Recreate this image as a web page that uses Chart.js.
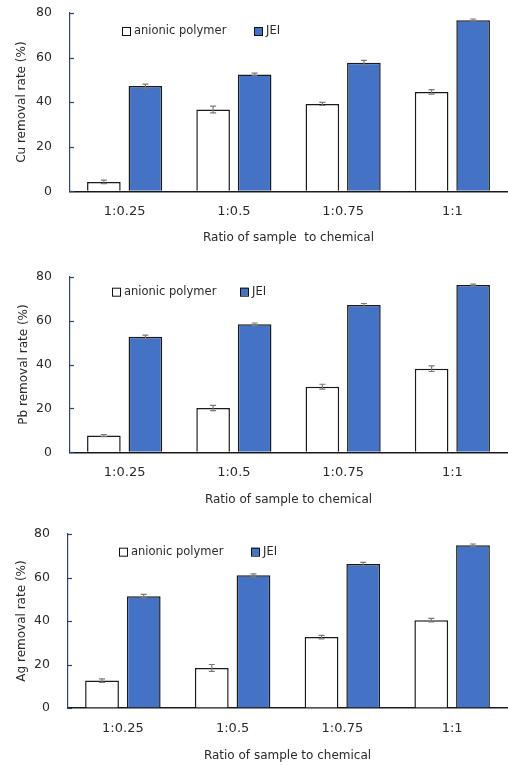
<!DOCTYPE html>
<html>
<head>
<meta charset="utf-8">
<script src="https://cdn.jsdelivr.net/npm/chart.js@4/dist/chart.umd.min.js"></script>
<style>
html,body{margin:0;padding:0;background:#fff;}
#wrap{width:508px;height:765px;position:relative;}
canvas{display:block;}
</style>
</head>
<body>
<div id="wrap">
<canvas id="c1" width="508" height="255"></canvas>
<canvas id="c2" width="508" height="255"></canvas>
<canvas id="c3" width="508" height="255"></canvas>
</div>
<script>
// ---- data ----
const categories = ['1:0.25', '1:0.5', '1:0.75', '1:1'];
const seriesNames = ['anionic polymer', 'JEI'];
const yTicks = [0, 20, 40, 60, 80];

const cuAnionic = [4.2, 36.7, 39.2, 44.6];
const cuAnionicErr = [0.8, 1.5, 0.7, 1.0];
const cuJEI = [47.2, 52.4, 57.7, 76.8];
const cuJEIErr = [0.9, 0.6, 1.0, 0.5];

const pbAnionic = [7.6, 20.2, 29.9, 38.1];
const pbAnionicErr = [0.5, 1.2, 1.1, 1.3];
const pbJEI = [52.6, 58.3, 67.1, 76.2];
const pbJEIErr = [0.8, 0.6, 0.7, 0.4];

const agAnionic = [12.6, 18.4, 32.6, 40.4];
const agAnionicErr = [0.8, 1.6, 0.8, 0.8];
const agJEI = [51.4, 61.0, 66.2, 74.8];
const agJEIErr = [0.8, 0.7, 0.8, 0.6];

const FONT = "'DejaVu Sans', sans-serif";
const TEXT = '#2a2a2a';
const NAVY = '#2E4372';

const errorBarPlugin = {
  id: 'errorBars',
  afterDatasetsDraw(chart) {
    const ctx = chart.ctx;
    const y = chart.scales.y;
    ctx.save();
    ctx.strokeStyle = '#7a7a7a';
    ctx.lineWidth = 1.2;
    chart.data.datasets.forEach((ds, di) => {
      const meta = chart.getDatasetMeta(di);
      meta.data.forEach((bar, i) => {
        const v = ds.data[i], e = ds.errors[i];
        const yt = y.getPixelForValue(v + e), yb = y.getPixelForValue(v - e);
        const x = bar.x, cw = 3;
        ctx.beginPath();
        ctx.moveTo(x, yt); ctx.lineTo(x, yb);
        ctx.moveTo(x - cw, yt); ctx.lineTo(x + cw, yt);
        ctx.moveTo(x - cw, yb); ctx.lineTo(x + cw, yb);
        ctx.stroke();
      });
    });
    ctx.restore();
  }
};

const axisDecorPlugin = {
  id: 'axisDecor',
  afterDraw(chart, args, opts) {
    const ctx = chart.ctx;
    const y = chart.scales.y;
    const a = chart.chartArea;
    ctx.save();
    // inward ticks on y axis
    ctx.strokeStyle = NAVY;
    ctx.lineWidth = 1.2;
    yTicks.forEach(t => {
      const py = Math.round(y.getPixelForValue(t)) + 0.5;
      ctx.beginPath();
      ctx.moveTo(a.left, py);
      ctx.lineTo(a.left + 4, py);
      ctx.stroke();
    });
    // legend inside plot
    ctx.font = '11.5px ' + FONT;
    ctx.textBaseline = 'middle';
    const ly = a.top + opts.dy;
    chart.data.datasets.forEach((ds, di) => {
      const bx = opts.xs[di];
      ctx.fillStyle = ds.backgroundColor;
      ctx.fillRect(bx, ly - 4, 8, 8);
      ctx.strokeStyle = '#111';
      ctx.lineWidth = 1;
      ctx.strokeRect(bx + 0.5, ly - 3.5, 8, 8);
      ctx.fillStyle = TEXT;
      ctx.fillText(ds.label, bx + 12, ly);
    });
    ctx.restore();
  }
};

function makeChart(id, yTitle, xTitle, anion, anionErr, jei, jeiErr, lay) {
  return new Chart(document.getElementById(id), {
    type: 'bar',
    data: {
      labels: categories,
      datasets: [
        { label: seriesNames[0], data: anion, errors: anionErr, backgroundColor: '#ffffff',
          borderColor: '#1a1a1a', borderWidth: 1.5 },
        { label: seriesNames[1], data: jei, errors: jeiErr, backgroundColor: '#4472C4',
          borderColor: '#1a1a1a', borderWidth: 1.5 }
      ]
    },
    options: {
      responsive: false,
      animation: false,
      events: [],
      categoryPercentage: 0.76,
      barPercentage: 0.81,
      layout: { padding: { left: 0, right: 1, top: lay.top, bottom: 0 } },
      plugins: {
        legend: { display: false },
        tooltip: { enabled: false },
        axisDecor: { dy: lay.legDy, xs: lay.legX }
      },
      scales: {
        x: {
          grid: { display: true, drawOnChartArea: false, drawTicks: true, tickLength: 13, color: 'rgba(0,0,0,0)' },
          border: { display: true, color: '#1a1a1a', width: 1.5 },
          ticks: { color: TEXT, font: { family: FONT, size: 13 }, padding: 0 },
          title: { display: true, text: xTitle, color: TEXT, font: { family: FONT, size: 12 },
                   padding: { top: 0, bottom: lay.xTitlePad } },
          afterFit: s => { s.height = lay.xH; }
        },
        y: {
          min: 0, max: 80,
          afterBuildTicks: s => { s.ticks = yTicks.map(v => ({ value: v })); },
          grid: { display: true, drawOnChartArea: false, drawTicks: true, tickLength: 18, color: 'rgba(0,0,0,0)' },
          border: { display: true, color: NAVY, width: 1.2 },
          ticks: { color: TEXT, font: { family: FONT, size: 12.5 }, padding: 0 },
          title: { display: true, text: yTitle, color: TEXT, font: { family: FONT, size: 12 },
                   padding: { top: lay.yTitlePad, bottom: 0 } },
          afterFit: s => { s.width = lay.yW; }
        }
      }
    },
    plugins: [errorBarPlugin, axisDecorPlugin]
  });
}

makeChart('c1', 'Cu removal rate (%)', 'Ratio of sample  to chemical',
  cuAnionic, cuAnionicErr, cuJEI, cuJEIErr,
  { top: 13, xH: 63.7, xTitlePad: 9.5, yTitlePad: 14.8, yW: 70, legDy: 18, legX: [122, 254] });
makeChart('c2', 'Pb removal rate (%)', 'Ratio of sample to chemical',
  pbAnionic, pbAnionicErr, pbJEI, pbJEIErr,
  { top: 21.7, xH: 57.7, xTitlePad: 2.8, yTitlePad: 17, yW: 70, legDy: 15, legX: [112, 240] });
makeChart('c3', 'Ag removal rate (%)', 'Ratio of sample to chemical',
  agAnionic, agAnionicErr, agJEI, agJEIErr,
  { top: 24, xH: 57, xTitlePad: 1.8, yTitlePad: 14.8, yW: 68, legDy: 17.7, legX: [119, 251] });
</script>
</body>
</html>
